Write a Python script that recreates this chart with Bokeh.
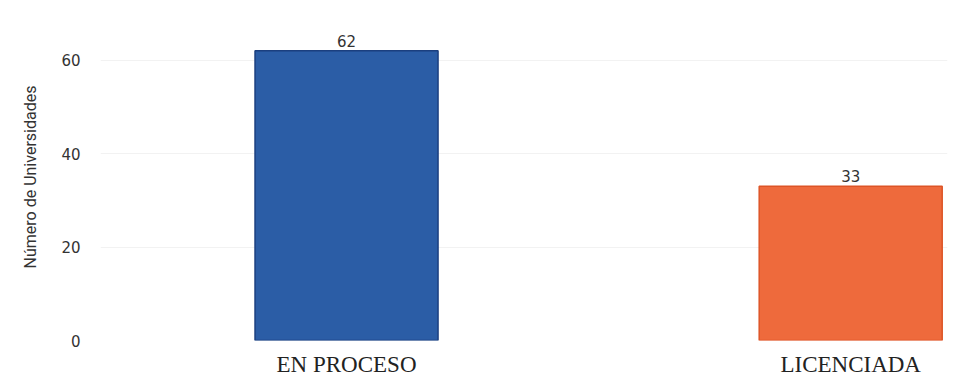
from bokeh.plotting import figure
from bokeh.models import ColumnDataSource, Range1d, FixedTicker, LabelSet
from bokeh.core.properties import value
from bokeh.embed import file_html
from bokeh.resources import INLINE

categories = ["EN PROCESO", "LICENCIADA"]
counts = [62, 33]
fill_colors = ["#2B5DA6", "#EE6A3C"]
line_colors = ["#1B3F7F", "#DD5426"]
y_ticks = [0, 20, 40, 60]

xs = list(range(len(categories)))
src = ColumnDataSource(dict(x=xs, top=counts, fill=fill_colors, line=line_colors,
                            lbl=[str(c) for c in counts]))

p = figure(width=950, height=379, output_backend="svg", toolbar_location=None,
           x_range=Range1d(-0.488, 1.192), y_range=Range1d(0, 70),
           min_border_top=13, min_border_right=3, min_border_left=100, min_border_bottom=34)
p.outline_line_color = None
p.background_fill_color = "white"

p.vbar(x="x", top="top", bottom=0, width=0.363, source=src,
       fill_color="fill", line_color="line", line_width=1.5)

labels = LabelSet(x="x", y="top", text="lbl", source=src, text_align="center",
                  text_baseline="bottom", y_offset=4, text_font_size="15px",
                  text_color="#333333", text_font=value("DejaVu Sans"))
p.add_layout(labels)

p.xaxis.ticker = FixedTicker(ticks=xs)
p.xaxis.major_label_overrides = {i: c for i, c in zip(xs, categories)}
p.xaxis.major_label_text_font = "Liberation Serif"
p.xaxis.major_label_text_font_size = "23px"
p.xaxis.major_label_text_color = "#222222"
p.xaxis.major_label_standoff = 5
p.xaxis.axis_line_color = None
p.xaxis.major_tick_line_color = None
p.xaxis.minor_tick_line_color = None

p.yaxis.ticker = FixedTicker(ticks=y_ticks)
p.yaxis.axis_label = "Número de Universidades"
p.yaxis.axis_label_text_font = "Roboto"
p.yaxis.axis_label_text_font_style = "normal"
p.yaxis.axis_label_text_font_size = "16px"
p.yaxis.axis_label_text_color = "#333333"
p.yaxis.axis_label_standoff = 18
p.yaxis.major_label_text_font = "DejaVu Sans"
p.yaxis.major_label_text_font_size = "15px"
p.yaxis.major_label_text_color = "#333333"
p.yaxis.major_label_standoff = 14
p.yaxis.axis_line_color = None
p.yaxis.major_tick_line_color = None
p.yaxis.minor_tick_line_color = None

p.xgrid.grid_line_color = None
p.ygrid.grid_line_color = "#f2f2f2"

open("out.html", "w").write(file_html(p, INLINE))
